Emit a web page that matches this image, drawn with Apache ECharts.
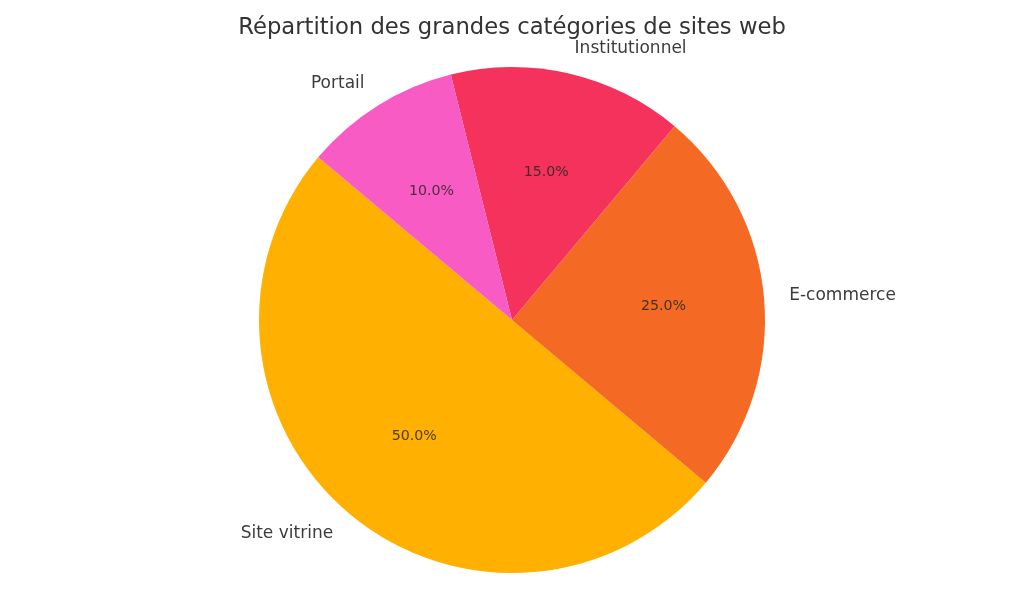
<!DOCTYPE html>
<html>
<head>
<meta charset="utf-8">
<script src="https://cdn.jsdelivr.net/npm/echarts@6/dist/echarts.min.js"></script>
<style>
html,body{margin:0;padding:0;background:#fff;}
#chart{width:1024px;height:614px;}
</style>
</head>
<body>
<div id="chart"></div>
<script>
const titleText = 'Répartition des grandes catégories de sites web';
const categories = ['Site vitrine', 'E-commerce', 'Institutionnel', 'Portail'];
const values = [50, 25, 15, 10];
const colors = ['#FFB000', '#F46A25', '#F5325B', '#F95BC5'];

const FONT = 'DejaVu Sans';
const R = 253;

const mainData = categories.map((c, i) => ({ name: c, value: values[i], itemStyle: { color: colors[i] } }));
const pctData = categories.map((c, i) => ({ name: c, value: values[i] }));

const chart = echarts.init(document.getElementById('chart'), null, { renderer: 'canvas' });
chart.setOption({
  animation: false,
  backgroundColor: '#ffffff',
  title: {
    text: titleText,
    left: 'center',
    top: 16.5,
    padding: 0,
    textStyle: { fontFamily: FONT, fontSize: 22.7, fontWeight: 'normal', color: '#333333' }
  },
  series: [
    {
      type: 'pie',
      center: [512, 320],
      radius: [0, R],
      startAngle: 140,
      clockwise: false,
      avoidLabelOverlap: false,
      silent: true,
      itemStyle: { borderWidth: 0 },
      label: {
        show: true,
        position: 'outside',
        distanceToLabelLine: 0,
        padding: [3, 0, 0, 0],
        fontFamily: FONT,
        fontSize: 17,
        color: '#3c3c3c',
        formatter: '{b}'
      },
      labelLine: { show: false, length: R * 0.1, length2: 0 },
      data: mainData
    },
    {
      type: 'pie',
      center: [512, 320],
      radius: [98, 200],
      startAngle: 140,
      clockwise: false,
      avoidLabelOverlap: false,
      silent: true,
      itemStyle: { color: 'rgba(0,0,0,0)', borderWidth: 0 },
      label: {
        show: true,
        position: 'inside',
        padding: [2, 0, 0, 0],
        fontFamily: FONT,
        fontSize: 14.2,
        color: 'rgba(40,40,40,0.85)',
        formatter: p => p.percent.toFixed(1) + '%'
      },
      labelLine: { show: false },
      data: pctData
    }
  ]
});
</script>
</body>
</html>
